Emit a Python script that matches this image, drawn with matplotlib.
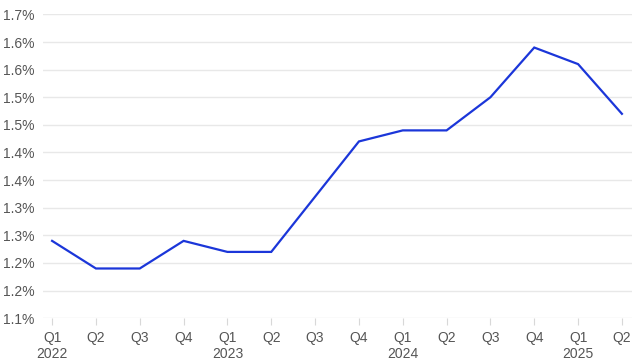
import numpy as np
import matplotlib.pyplot as plt

quarters = ["Q1", "Q2", "Q3", "Q4", "Q1", "Q2", "Q3", "Q4", "Q1", "Q2", "Q3", "Q4", "Q1", "Q2"]
years = ["2022", "", "", "", "2023", "", "", "", "2024", "", "", "", "2025", ""]
values = [1.24, 1.19, 1.19, 1.24, 1.22, 1.22, 1.32, 1.42, 1.44, 1.44, 1.50, 1.59, 1.56, 1.47]

yticks = [1.10, 1.15, 1.20, 1.25, 1.30, 1.35, 1.40, 1.45, 1.50, 1.55, 1.60, 1.65]
ytick_labels = ["1.1%", "1.2%", "1.2%", "1.3%", "1.3%", "1.4%", "1.4%", "1.5%", "1.5%", "1.6%", "1.6%", "1.7%"]

plt.rcParams['font.family'] = ['Liberation Sans', 'DejaVu Sans']

fig = plt.figure(figsize=(6.4, 3.62), dpi=100)
ax = fig.add_axes([0.067, 0.121, 0.9205, 0.840])

x = np.arange(len(values))
ax.plot(x, values, color="#1b36d9", linewidth=1.6, solid_joinstyle="miter", zorder=3)

ax.set_xlim(-0.21, len(values) - 1 + 0.23)
ax.set_ylim(1.10, 1.6505)

ax.set_yticks(yticks)
ax.set_yticklabels(ytick_labels)
labels = [q + ("\n" + y if y else "") for q, y in zip(quarters, years)]
ax.set_xticks(x)
ax.set_xticklabels(labels, linespacing=1.2, va="top")

ax.grid(axis="y", color="#e8e8e8", linewidth=1.0, zorder=0)
for s in ax.spines.values():
    s.set_visible(False)

ax.tick_params(axis="y", length=0, pad=6, labelsize=10, labelcolor="#555555")
ax.tick_params(axis="x", length=5, width=0.8, color="#d8d8d8", pad=4, labelsize=10, labelcolor="#555555")

fig.savefig("out.png", dpi=100, facecolor="white")
